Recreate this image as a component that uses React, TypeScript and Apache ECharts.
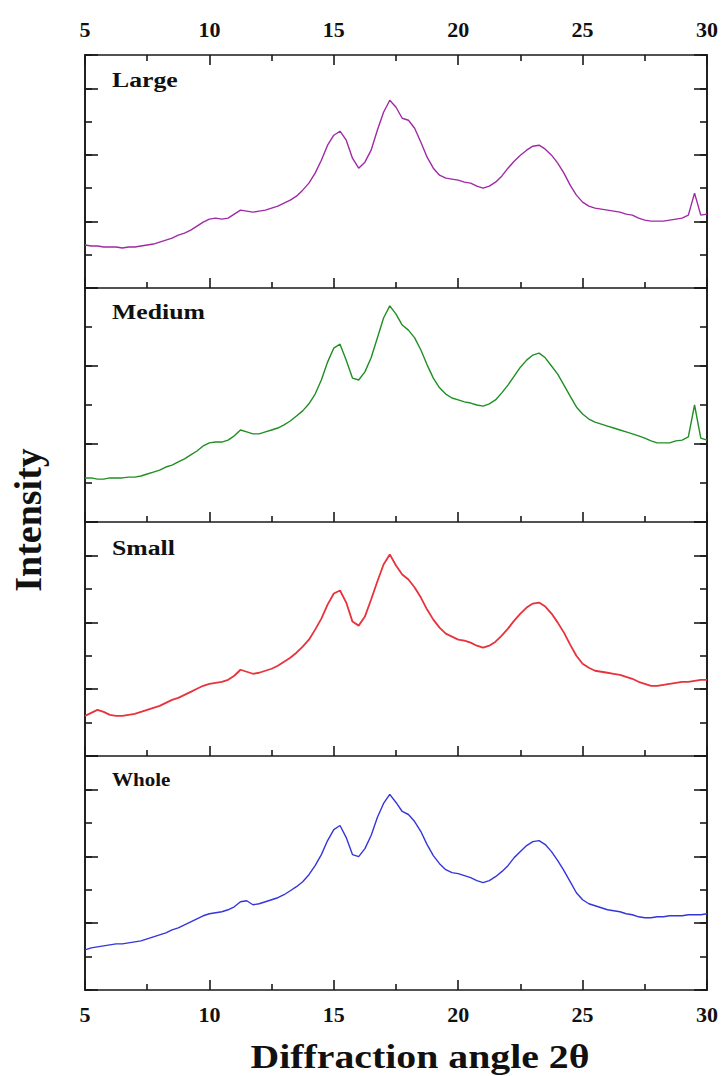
import React, { useEffect, useRef } from "react";
import * as echarts from "echarts";

// x sampling: 5 .. 30 step 0.25 (101 points)
const X_MIN = 5;
const X_MAX = 30;
const X_STEP = 0.25;
const XS: number[] = [];
for (let k = 0; k <= 100; k++) XS.push(X_MIN + k * X_STEP);

const X_TICK_LABELS = ["5", "10", "15", "20", "25", "30"];
const PANEL_NAMES = ["Large", "Medium", "Small", "Whole"];
const PANEL_Y_MAX = [70, 60, 70, 70];

const LARGE = [
  12.9, 12.6, 12.6, 12.3, 12.3, 12.3, 12.0, 12.3, 12.3, 12.6,
  12.9, 13.2, 13.8, 14.4, 15.0, 15.9, 16.5, 17.4, 18.6, 19.8,
  20.7, 21.0, 20.7, 21.0, 22.2, 23.4, 23.1, 22.8, 23.1, 23.4,
  24.0, 24.6, 25.5, 26.4, 27.6, 29.4, 31.5, 34.5, 38.4, 42.9,
  45.9, 47.1, 44.4, 39.0, 36.0, 37.8, 41.4, 47.4, 52.8, 56.4,
  54.3, 51.0, 50.4, 48.0, 43.8, 39.3, 36.0, 33.9, 33.0, 32.7,
  32.4, 31.8, 31.5, 30.6, 30.0, 30.6, 31.8, 33.6, 36.0, 38.1,
  39.9, 41.4, 42.6, 42.9, 41.7, 39.9, 37.5, 34.5, 30.9, 27.9,
  25.8, 24.6, 24.0, 23.7, 23.4, 23.1, 22.8, 22.2, 21.9, 21.0,
  20.4, 20.1, 20.1, 20.1, 20.4, 20.7, 21.0, 21.9, 28.5, 21.9,
  22.2,
];

const MEDIUM = [
  11.3, 11.3, 11.0, 11.0, 11.3, 11.3, 11.3, 11.5, 11.5, 11.8,
  12.3, 12.8, 13.3, 14.1, 14.6, 15.4, 16.2, 17.2, 18.2, 19.5,
  20.3, 20.5, 20.5, 21.0, 22.1, 23.6, 23.1, 22.6, 22.6, 23.1,
  23.6, 24.1, 24.9, 25.9, 27.2, 28.5, 30.3, 32.8, 36.4, 41.0,
  44.6, 45.6, 41.5, 36.9, 36.4, 38.5, 42.1, 47.2, 52.3, 55.4,
  53.3, 50.5, 49.2, 47.2, 44.1, 40.3, 36.9, 34.4, 32.8, 31.8,
  31.3, 30.8, 30.5, 30.0, 29.7, 30.3, 31.3, 33.1, 35.1, 37.4,
  39.7, 41.5, 42.8, 43.3, 42.1, 40.0, 37.9, 35.1, 32.3, 29.5,
  27.7, 26.4, 25.6, 25.1, 24.6, 24.1, 23.6, 23.1, 22.6, 22.1,
  21.5, 20.8, 20.3, 20.3, 20.3, 20.8, 21.0, 21.8, 30.0, 21.5,
  21.0,
];

const SMALL = [
  12.0, 12.9, 13.8, 13.2, 12.3, 12.0, 12.0, 12.3, 12.6, 13.2,
  13.8, 14.4, 15.0, 15.9, 16.8, 17.4, 18.3, 19.2, 20.1, 21.0,
  21.6, 21.9, 22.2, 22.8, 24.0, 25.8, 25.2, 24.6, 24.9, 25.5,
  26.1, 27.0, 28.2, 29.4, 30.9, 32.7, 34.8, 37.8, 41.1, 45.3,
  48.6, 49.5, 45.9, 40.2, 39.0, 41.7, 46.8, 52.2, 57.3, 60.3,
  57.0, 54.3, 52.8, 50.4, 47.4, 43.8, 40.8, 38.4, 36.6, 35.7,
  34.8, 34.5, 33.9, 33.0, 32.4, 33.0, 34.2, 36.0, 38.1, 40.5,
  42.6, 44.4, 45.6, 45.9, 44.7, 42.6, 39.9, 36.9, 33.3, 30.0,
  27.6, 26.4, 25.5, 25.2, 24.9, 24.6, 24.3, 23.7, 23.1, 22.2,
  21.6, 21.0, 21.0, 21.3, 21.6, 21.9, 22.2, 22.2, 22.5, 22.8,
  22.8,
];

const WHOLE = [
  12.0, 12.6, 12.9, 13.2, 13.5, 13.8, 13.8, 14.1, 14.4, 14.7,
  15.3, 15.9, 16.5, 17.1, 18.0, 18.6, 19.5, 20.4, 21.3, 22.2,
  22.8, 23.1, 23.4, 24.0, 24.9, 26.4, 26.7, 25.5, 25.8, 26.4,
  27.0, 27.6, 28.5, 29.7, 30.9, 32.4, 34.5, 37.2, 40.5, 44.7,
  48.0, 49.2, 45.6, 40.5, 39.9, 42.3, 46.2, 51.6, 55.8, 58.5,
  56.1, 53.4, 52.5, 50.4, 47.4, 43.5, 40.2, 37.8, 36.0, 35.1,
  34.8, 34.2, 33.6, 32.7, 32.1, 32.7, 33.9, 35.4, 37.2, 39.6,
  41.4, 43.2, 44.4, 44.7, 43.5, 41.4, 38.7, 35.7, 32.4, 29.1,
  27.0, 25.8, 25.2, 24.6, 24.0, 23.7, 23.4, 22.8, 22.5, 21.9,
  21.6, 21.6, 21.9, 21.9, 22.2, 22.2, 22.2, 22.5, 22.5, 22.5,
  22.8,
];

const SERIES_VALUES = [LARGE, MEDIUM, SMALL, WHOLE];
const SERIES_COLORS = ["#a02aa6", "#1f8f24", "#e8323c", "#3535dc"];
const SERIES_WIDTHS = [1.4, 1.4, 1.8, 1.4];

const FONT = "Liberation Serif";
const AXIS_COLOR = "#1a1a1a";

export default function App() {
  const ref = useRef<HTMLDivElement>(null);

  useEffect(() => {
    if (!ref.current) return;
    const chart = echarts.init(ref.current, null, { renderer: "svg" });

    const tops = [55, 288, 522, 756];
    const heights = [233, 234, 234, 234];
    const grid = tops.map((t, i) => ({ left: 85, right: 16, top: t, height: heights[i] }));

    const lineStyle = { color: AXIS_COLOR, width: 1.6 };
    const labelStyle = {
      fontFamily: FONT,
      fontWeight: "bold" as const,
      fontSize: 22,
      color: "#111",
      margin: 13,
      formatter: (v: number) => (X_TICK_LABELS.includes(String(v)) ? String(v) : ""),
    };

    const xAxis: any[] = [];
    for (let i = 0; i < 4; i++) {
      xAxis.push({
        type: "value",
        gridIndex: i,
        position: "bottom",
        min: X_MIN,
        max: X_MAX,
        interval: 5,
        axisLine: { show: true, onZero: false, lineStyle },
        axisTick: { show: true, inside: true, length: 10, lineStyle },
        minorTick: { show: true, splitNumber: 2, length: 6, lineStyle },
        axisLabel: { show: i === 3, ...labelStyle },
        splitLine: { show: false },
        minorSplitLine: { show: false },
      });
    }
    xAxis.push({
      type: "value",
      gridIndex: 0,
      position: "top",
      min: X_MIN,
      max: X_MAX,
      interval: 5,
      axisLine: { show: true, onZero: false, lineStyle },
      axisTick: { show: true, inside: true, length: 10, lineStyle },
      minorTick: { show: true, splitNumber: 2, length: 6, lineStyle },
      axisLabel: { show: true, ...labelStyle, margin: 15 },
      splitLine: { show: false },
    });

    const yAxis: any[] = [];
    for (let i = 0; i < 4; i++) {
      for (const pos of ["left", "right"]) {
        yAxis.push({
          type: "value",
          gridIndex: i,
          position: pos,
          min: 0,
          max: PANEL_Y_MAX[i],
          interval: 10,
          axisLine: { show: true, onZero: false, lineStyle },
          axisTick: { show: true, inside: true, length: 7, lineStyle },
          axisLabel: { show: false },
          splitLine: { show: false },
        });
        yAxis.push({
          type: "value",
          gridIndex: i,
          position: pos,
          min: 0,
          max: PANEL_Y_MAX[i],
          interval: 20,
          axisLine: { show: true, onZero: false, lineStyle },
          axisTick: { show: true, inside: true, length: 13, lineStyle },
          axisLabel: { show: false },
          splitLine: { show: false },
        });
      }
    }

    const series = SERIES_VALUES.map((vals, i) => ({
      type: "line",
      name: PANEL_NAMES[i],
      xAxisIndex: i,
      yAxisIndex: i * 4,
      data: XS.map((x, k) => [x, vals[k]]),
      symbol: "none",
      showSymbol: false,
      smooth: false,
      lineStyle: { color: SERIES_COLORS[i], width: SERIES_WIDTHS[i] },
      silent: true,
    }));

    const labelPos = [80, 312, 548, 780];
    const labelSize = [22, 22, 22, 18];
    const graphic: any[] = PANEL_NAMES.map((name, i) => ({
      type: "text",
      x: 112,
      y: labelPos[i],
      scaleX: 1.17,
      style: {
        text: name,
        fontFamily: FONT,
        fontWeight: "bold",
        fontSize: labelSize[i],
        fill: "#111",
        align: "left",
        textAlign: "left",
        verticalAlign: "middle",
        textVerticalAlign: "middle",
      },
    }));
    graphic.push({
      type: "text",
      x: 420,
      y: 1057,
      scaleX: 1.17,
      style: {
        text: "Diffraction angle 2\u03B8",
        fontFamily: FONT,
        fontWeight: "bold",
        fontSize: 34,
        fill: "#111",
        align: "center",
        textAlign: "center",
        verticalAlign: "middle",
        textVerticalAlign: "middle",
      },
    });
    graphic.push({
      type: "text",
      x: 28,
      y: 520,
      rotation: Math.PI / 2,
      style: {
        text: "Intensity",
        fontFamily: FONT,
        fontWeight: "bold",
        fontSize: 38,
        fill: "#111",
        align: "center",
        textAlign: "center",
        verticalAlign: "middle",
        textVerticalAlign: "middle",
      },
    });

    chart.setOption({
      animation: false,
      backgroundColor: "#ffffff",
      grid,
      xAxis,
      yAxis,
      series,
      graphic,
    });

    return () => chart.dispose();
  }, []);

  return (
    <div
      ref={ref}
      style={{ position: "absolute", left: 0, top: 0, width: 723, height: 1076 }}
    />
  );
}
